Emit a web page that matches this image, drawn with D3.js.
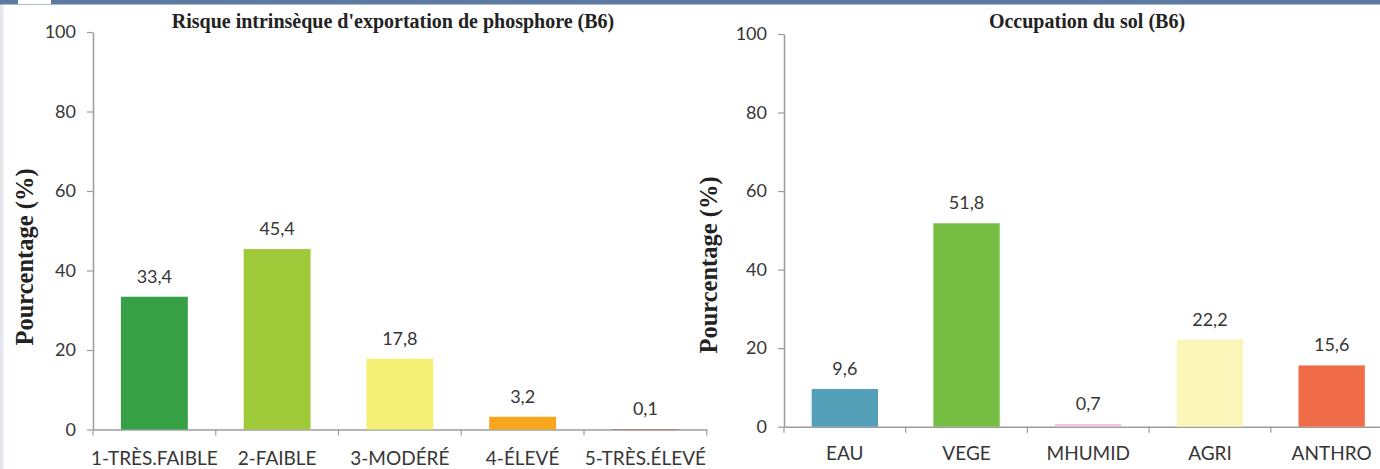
<!DOCTYPE html>
<html>
<head>
<meta charset="utf-8">
<script src="https://cdn.jsdelivr.net/npm/d3@7"></script>
<style>
  html, body { margin: 0; padding: 0; background: #ffffff; }
  svg { display: block; }
  .tick text, .val { font-family: Lato, "Open Sans", sans-serif; fill: #363636; }
  .title, .ytitle { font-family: "Liberation Serif", "DejaVu Serif", serif; font-weight: bold; fill: #222; }
</style>
</head>
<body>
<svg id="chart" width="1380" height="469"></svg>
<script>
// Risque intrinsèque d'exportation de phosphore (B6)
const riskCategories = ["1-TRÈS.FAIBLE", "2-FAIBLE", "3-MODÉRÉ", "4-ÉLEVÉ", "5-TRÈS.ÉLEVÉ"];
const riskValues = [33.4, 45.4, 17.8, 3.2, 0.1];
const riskColors = ["#36a047", "#9fcb3b", "#f4ef75", "#f9a61f", "#b0302a"];

// Occupation du sol (B6)
const landCategories = ["EAU", "VEGE", "MHUMID", "AGRI", "ANTHRO"];
const landValues = [9.6, 51.8, 0.7, 22.2, 15.6];
const landColors = ["#53a0b8", "#76bd43", "#efc3dc", "#faf5b8", "#f06b47"];

const yTicks = [0, 20, 40, 60, 80, 100];

const svg = d3.select("#chart");
const fmt = v => String(v).replace(".", ",");

// page frame: top band and left edge strip
const edge = svg.append("defs").append("linearGradient").attr("id", "edge")
  .attr("x1", 0).attr("x2", 1).attr("y1", 0).attr("y2", 0);
edge.append("stop").attr("offset", 0).attr("stop-color", "#dfe3e8");
edge.append("stop").attr("offset", 1).attr("stop-color", "#f1f2f4");
svg.append("rect").attr("x", 0).attr("y", 0).attr("width", 4).attr("height", 469).attr("fill", "url(#edge)");
svg.append("rect").attr("x", 0).attr("y", 0).attr("width", 1380).attr("height", 4.5).attr("fill", "#5b7ba2");
svg.append("rect").attr("x", 18).attr("y", 0).attr("width", 33).attr("height", 4).attr("fill", "#ffffff");

function drawChart(cfg) {
  const g = svg.append("g");
  const n = cfg.categories.length;
  const pad = 0.455;

  const x = d3.scaleBand()
    .domain(cfg.categories)
    .range([cfg.x0, cfg.x1])
    .paddingInner(pad)
    .paddingOuter(pad / 2);

  const y = d3.scaleLinear().domain([0, 100]).range([cfg.yBottom, cfg.yTop]);

  // y axis
  const yAxis = g.append("g")
    .attr("transform", `translate(${cfg.x0},0)`)
    .call(d3.axisLeft(y).tickValues(yTicks).tickSize(6).tickSizeOuter(0).tickPadding(11));
  yAxis.select(".domain").attr("stroke", "#9c9c9c").attr("stroke-width", 1.5);
  yAxis.selectAll(".tick line").attr("stroke", "#9c9c9c").attr("stroke-width", 1.2);
  yAxis.selectAll(".tick text").attr("font-size", 18);

  // x axis with category labels
  const xAxis = g.append("g")
    .attr("transform", `translate(0,${cfg.yBottom})`)
    .call(d3.axisBottom(x).tickSize(0).tickSizeOuter(0).tickPadding(cfg.labelPad));
  xAxis.select(".domain").attr("stroke", "#9c9c9c").attr("stroke-width", 1.5);
  xAxis.selectAll(".tick text").attr("font-size", 19);

  // tick marks between categories
  const bounds = d3.range(n + 1).map(i => x.range()[0] + i * x.step());
  g.append("g").selectAll("line").data(bounds).join("line")
    .attr("x1", d => d).attr("x2", d => d)
    .attr("y1", cfg.yBottom).attr("y2", cfg.yBottom + 6)
    .attr("stroke", "#9c9c9c").attr("stroke-width", 1.2);

  // bars
  g.append("g").selectAll("rect").data(cfg.values).join("rect")
    .attr("x", (d, i) => x(cfg.categories[i]))
    .attr("width", x.bandwidth())
    .attr("y", d => y(d))
    .attr("height", d => y(0) - y(d))
    .attr("fill", (d, i) => cfg.colors[i]);

  // value labels
  g.append("g").selectAll("text").data(cfg.values).join("text")
    .attr("class", "val")
    .attr("x", (d, i) => x(cfg.categories[i]) + x.bandwidth() / 2)
    .attr("y", d => y(d) - 14)
    .attr("text-anchor", "middle")
    .attr("font-size", 18)
    .text(d => fmt(d));

  // chart title
  g.append("text").attr("class", "title")
    .attr("x", cfg.titleX).attr("y", 28)
    .attr("text-anchor", "middle").attr("font-size", 20)
    .text(cfg.title);

  // y axis title
  g.append("text").attr("class", "ytitle")
    .attr("transform", `translate(${cfg.yTitleX},${cfg.yTitleY}) rotate(-90)`)
    .attr("text-anchor", "middle").attr("font-size", 24.5)
    .text("Pourcentage (%)");
}

drawChart({
  categories: riskCategories, values: riskValues, colors: riskColors,
  x0: 93, x1: 706.75, yBottom: 429.5, yTop: 32, labelPad: 22,
  title: "Risque intrinsèque d'exportation de phosphore (B6)", titleX: 393,
  yTitleX: 33, yTitleY: 257
});

drawChart({
  categories: landCategories, values: landValues, colors: landColors,
  x0: 784, x1: 1392.5, yBottom: 426.7, yTop: 34, labelPad: 20,
  title: "Occupation du sol (B6)", titleX: 1087,
  yTitleX: 717, yTitleY: 265
});
</script>
</body>
</html>
